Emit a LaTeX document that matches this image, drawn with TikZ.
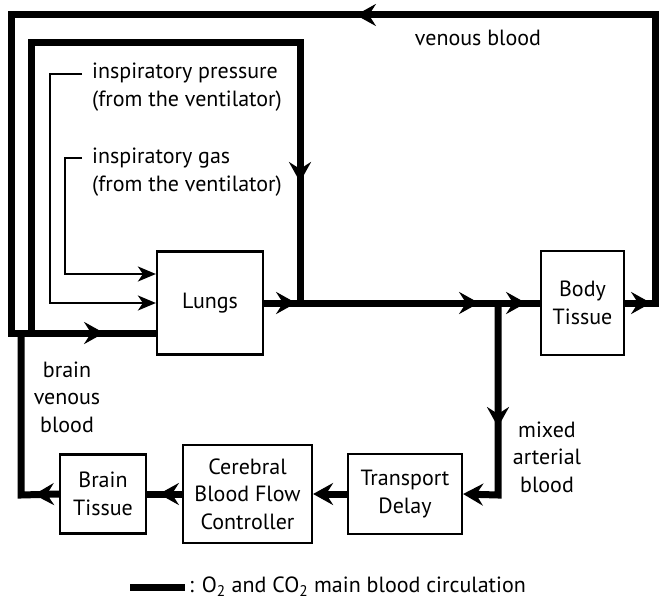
\documentclass[tikz,border=0pt]{standalone}
\usepackage{fontspec}
\setmainfont{PT Sans}
\usetikzlibrary{arrows.meta,decorations.markings}
\tikzset{
  bigtip/.tip={Stealth[length=20pt,width=22pt,inset=7pt]},
  smalltip/.tip={Stealth[length=18pt,width=15pt,inset=5pt]},
  box/.style={draw,line width=2.2pt,align=center,inner sep=0pt,font=\mainfont},
  lab/.style={align=center,inner sep=0pt,font=\mainfont},
  heavy/.style={line width=7pt},
  light/.style={line width=2pt},
  arrowsat/.style={postaction={decorate},decoration={markings,#1}},
}
\newcommand{\mainfont}{\fontsize{22}{27.5}\selectfont}
\begin{document}
\begin{tikzpicture}[x=1pt,y=-1pt]
\useasboundingbox (0,0) rectangle (659,602);
% boxes
\node[box,minimum width=106pt,minimum height=103pt] (lungs) at (210,303) {Lungs};
\node[box,minimum width=83pt,minimum height=104pt] (body) at (582.5,303) {Body\\Tissue};
\node[box,minimum width=114pt,minimum height=80pt] (delay) at (405,494) {Transport\\Delay};
\node[box,minimum width=129pt,minimum height=98pt] (cbfc) at (247.5,494) {Cerebral\\Blood Flow\\Controller};
\node[box,minimum width=86pt,minimum height=79pt] (brain) at (103,494) {Brain\\Tissue};
% coordinates
\coordinate (ja) at (300,303);
\coordinate (jb) at (498,303);
\coordinate (rc) at (655,303);
\coordinate (rt) at (655,15);
\coordinate (lt) at (11,15);
\coordinate (lb) at (11,333);
\coordinate (ib) at (31,333);
\coordinate (itl) at (31,43);
\coordinate (itr) at (300,43);
\coordinate (bv) at (21,333);
\coordinate (bb) at (21,495);
\coordinate (bc) at (498,495);
% main line
\draw[heavy,arrowsat={mark=at position 32pt with {\arrow{bigtip}},mark=at position 215pt with {\arrow{bigtip}},mark=at position 262pt with {\arrow{bigtip}}}]
  (lungs.east) -- (ja) -- (jb) -- (body.west);
% outer venous loop
\draw[heavy,arrowsat={mark=at position 26pt with {\arrow{bigtip}},mark=at position 617pt with {\arrow{bigtip}},mark=at position 1373pt with {\arrow{bigtip}}}]
  (body.east) -- (rc) -- (rt) -- (lt) -- (lb) -- (lungs.west |- lb);
% inner shunt loop
\draw[heavy,arrowsat={mark=at position 698pt with {\arrow{bigtip}}}]
  (ib) -- (itl) -- (itr) -- (ja);
% branch
\draw[heavy,-{bigtip},arrowsat={mark=at position 124pt with {\arrow{bigtip}}}]
  (jb) -- (bc) -- (delay.east);
\draw[heavy,-{bigtip}] (delay.west) -- (cbfc.east);
\draw[heavy,arrowsat={mark=at position 23pt with {\arrow{bigtip}}}] (cbfc.west) -- (brain.east);
\draw[heavy,arrowsat={mark=at position 25pt with {\arrow{bigtip}}}] (brain.west) -- (bb) -- (bv);
% thin ventilator inputs
\coordinate (ps) at (82,74);
\coordinate (pc1) at (50,74);
\coordinate (pc2) at (50,303);
\coordinate (gs) at (82,158);
\coordinate (gc1) at (65,158);
\coordinate (gc2) at (65,274);
\draw[light,-{smalltip}] (ps) -- (pc1) -- (pc2) -- (lungs.west |- pc2);
\draw[light,-{smalltip}] (gs) -- (gc1) -- (gc2) -- (lungs.west |- gc2);
% labels
\node[lab,align=left,anchor=west] (tp) at (92,87) {inspiratory pressure\\(from the ventilator)};
\node[lab,align=left,anchor=west] (tg) at (92,172) {inspiratory gas\\(from the ventilator)};
\node[lab] (tv) at (478,38) {venous blood};
\node[lab] (tb) at (67,397) {brain\\venous\\blood};
\node[lab] (tm) at (547,457) {mixed\\arterial\\blood};
% legend
\coordinate (la) at (130,587);
\coordinate (lz) at (185,587);
\draw[heavy] (la) -- (lz);
\node[lab,anchor=west] (tl) at (189,587) {: O\textsubscript{2} and CO\textsubscript{2} main blood circulation};
\end{tikzpicture}
\end{document}
